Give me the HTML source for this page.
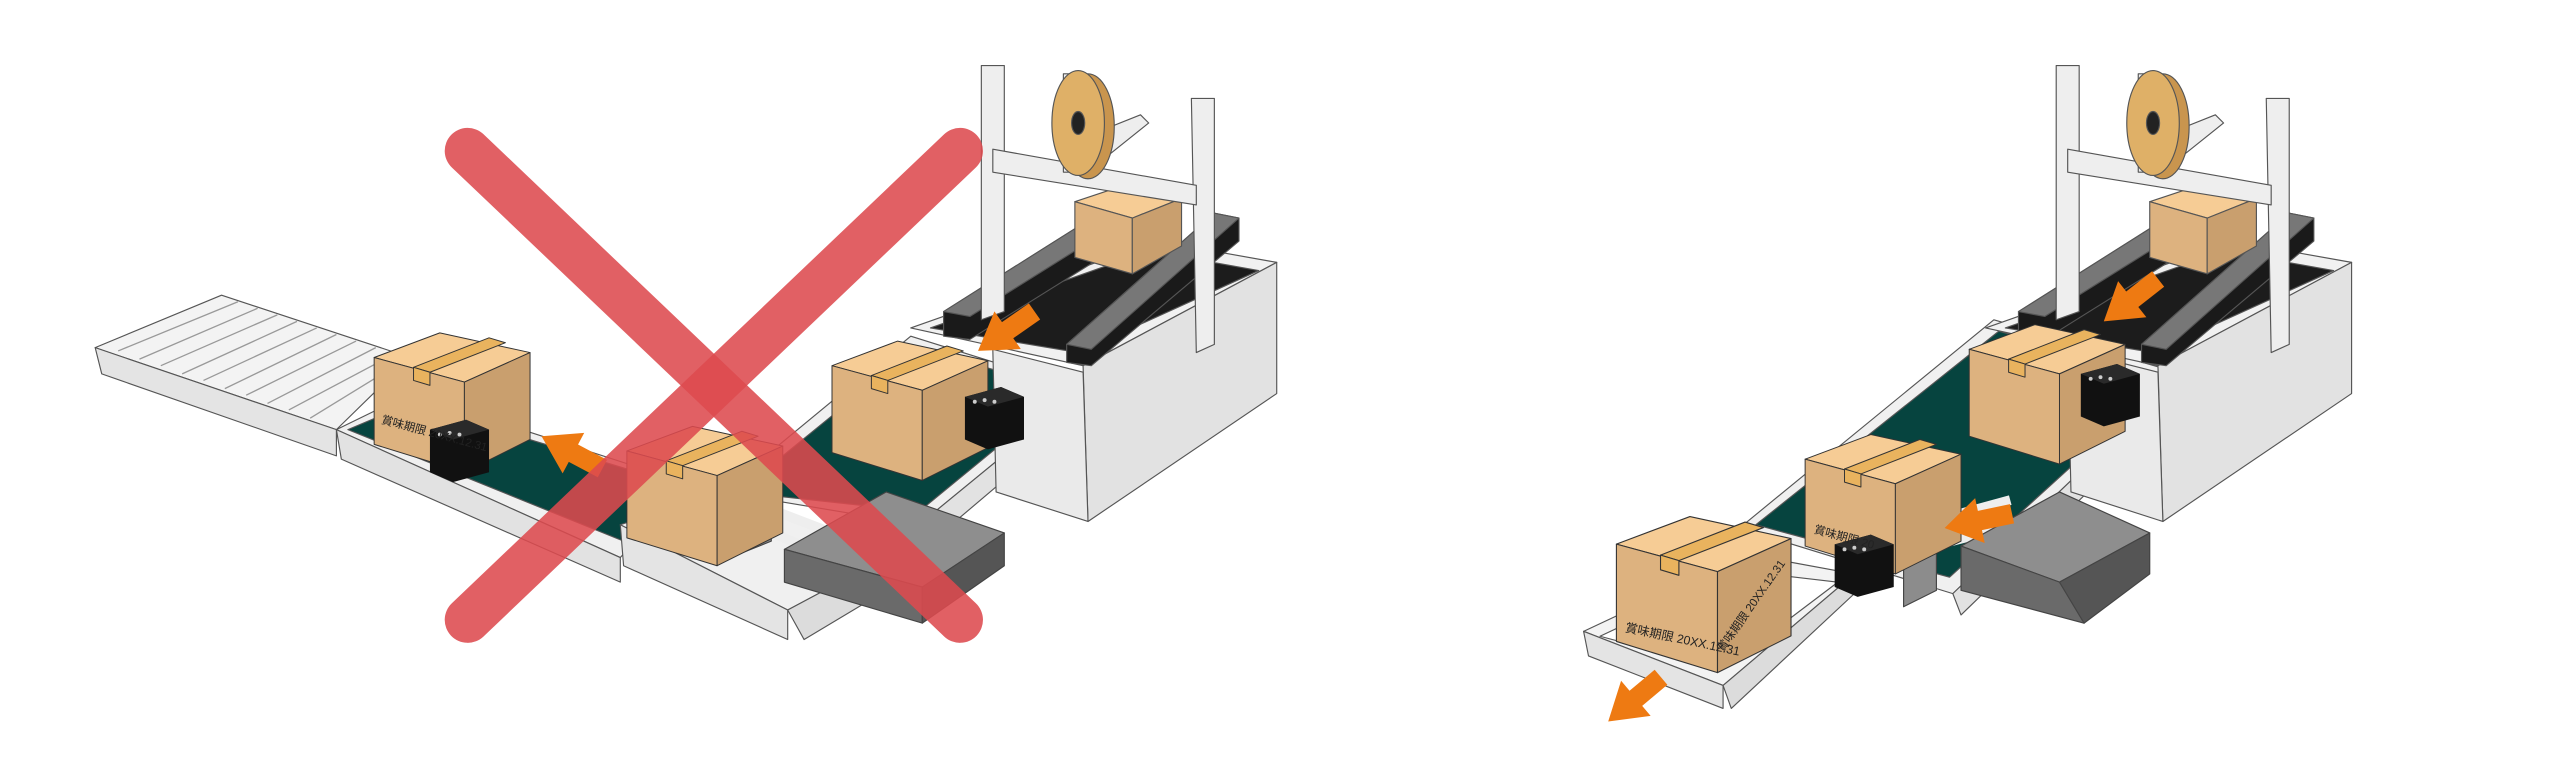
<!DOCTYPE html>
<html><head><meta charset="utf-8"><style>
html,body{margin:0;padding:0;background:#fff}
svg{display:block}
text{font-family:"Liberation Sans","Noto Sans CJK JP",sans-serif}
</style></head><body>
<svg width="2560" height="774" viewBox="0 0 1560 472" preserveAspectRatio="none" xmlns="http://www.w3.org/2000/svg">
<defs>
<g id="box" stroke="#333" stroke-width="0.6" stroke-linejoin="round">
<polygon points="0,15 40,0 95,12 55,30" fill="#f6cc95"/>
<polygon points="0,15 55,30 55,85 0,68" fill="#ddb27f"/>
<polygon points="55,30 95,12 95,65 55,85" fill="#c99f6e"/>
<polygon points="24,21 34,24 80,6 70,3" fill="#e9b35e"/>
<polygon points="24,21 34,24 34,32 24,29" fill="#e9b35e"/>
</g>
<g id="printer">
<polygon points="0,6 22,0 36,6 36,32 14,38 0,32" fill="#111"/>
<polygon points="0,6 22,0 36,6 14,12" fill="#2a2a2a"/>
<circle cx="6" cy="9" r="1.2" fill="#ccc"/><circle cx="12" cy="8" r="1.2" fill="#ccc"/><circle cx="18" cy="9" r="1.2" fill="#ccc"/>
</g>
<polygon id="arrow" points="0,0 22,-14 22,-6 42,-6 42,6 22,6 22,14" fill="#ee7a12"/>
<g id="sealer" stroke="#555" stroke-width="0.7" stroke-linejoin="round">
<!-- body -->
<polygon points="10,95 160,42 233,55 115,118" fill="#f1f1f1"/>
<polygon points="115,118 233,55 233,135 118,213" fill="#e2e2e2"/>
<polygon points="60,108 115,122 118,213 62,195" fill="#eaeaea"/>
<!-- dark belt -->
<polygon points="22,95 155,48 222,60 112,110" fill="#1c1c1c"/>
<!-- side belts -->
<polygon points="30,85 125,25 142,28 142,42 46,102 30,100" fill="#1a1a1a"/>
<polygon points="30,85 125,25 142,28 46,88" fill="#777"/>
<polygon points="105,105 195,25 210,28 210,42 120,118 105,116" fill="#1a1a1a"/>
<polygon points="105,105 195,25 210,28 120,108" fill="#777"/>
<!-- box on sealer -->
<polygon points="110,18 140,8 175,16 145,28" fill="#f6cc95"/>
<polygon points="110,18 145,28 145,62 110,52" fill="#ddb27f"/>
<polygon points="145,28 175,16 175,45 145,62" fill="#c99f6e"/>
<!-- uprights -->
<polygon points="53,-65 67,-65 67,85 53,90" fill="#eeeeee"/>
<polygon points="181,-45 195,-45 195,105 184,110" fill="#eeeeee"/>
<polygon points="60,-14 184,8 184,20 60,0" fill="#eeeeee"/>
<polygon points="103,-60 115,-60 115,0 103,0" fill="#eeeeee"/>
<polygon points="125,-25 150,-35 155,-30 130,-10" fill="#eeeeee"/>
<!-- tape roll -->
<ellipse cx="118" cy="-28" rx="16" ry="32" fill="#c9954e"/>
<ellipse cx="112" cy="-30" rx="16" ry="32" fill="#dfb067"/>
<ellipse cx="112" cy="-30" rx="4" ry="7" fill="#222"/>
</g>
</defs>

<!-- ================= LEFT SCENE ================= -->
<g stroke="#555" stroke-width="0.7" stroke-linejoin="round">
<polygon points="58,212 135,180 250,218 205,262" fill="#f3f3f3"/>
<polygon points="58,212 205,262 205,278 62,228" fill="#e4e4e4"/>
<g stroke="#999" stroke-width="0.8">
<line x1="72" y1="214" x2="145" y2="184"/><line x1="85" y1="219" x2="157" y2="188"/>
<line x1="98" y1="223" x2="169" y2="192"/><line x1="111" y1="228" x2="181" y2="196"/>
<line x1="124" y1="232" x2="193" y2="200"/><line x1="137" y1="237" x2="205" y2="204"/>
<line x1="150" y1="241" x2="217" y2="208"/><line x1="163" y1="246" x2="229" y2="212"/>
<line x1="176" y1="250" x2="240" y2="216"/><line x1="189" y1="255" x2="246" y2="220"/>
</g>
<polygon points="205,262 250,240 420,295 378,340" fill="#f0f0f0"/>
<polygon points="205,262 378,340 378,355 208,280" fill="#e2e2e2"/>
<polygon points="212,262 250,246 415,296 380,330" fill="#06443f"/>
<polygon points="440,300 555,205 660,238 560,320" fill="#f0f0f0"/>
<polygon points="450,300 558,212 650,238 560,312" fill="#06443f"/>
<polygon points="560,320 660,238 660,252 562,335" fill="#e2e2e2"/>
<polygon points="378,320 440,300 540,340 480,372" fill="#f0f0f0"/>
<polygon points="378,320 480,372 480,390 380,345" fill="#e4e4e4"/>
<polygon points="480,372 540,340 540,360 490,390" fill="#dcdcdc"/>
</g>
<use href="#sealer" x="545" y="105"/>
<g stroke="#444" stroke-width="0.7" stroke-linejoin="round">
<polygon points="445,290 470,280 470,330 445,340" fill="#8c8c8c"/>
<line x1="455" y1="305" x2="520" y2="330" stroke="#eee" stroke-width="6"/>
<line x1="455" y1="318" x2="505" y2="340" stroke="#eee" stroke-width="6"/>
<polygon points="478,335 540,300 612,325 562,358" fill="#8e8e8e"/>
<polygon points="478,335 562,358 562,380 478,355" fill="#6a6a6a"/>
<polygon points="562,358 612,325 612,345 562,380" fill="#555"/>
</g>
<use href="#box" x="228" y="203"/>
<use href="#box" x="507" y="208"/>
<use href="#box" x="382" y="260"/>
<use href="#printer" x="262" y="256"/>
<use href="#printer" x="588" y="236"/>
<use href="#arrow" transform="translate(330,266) rotate(28)"/>
<use href="#arrow" transform="translate(596,214) rotate(-35)"/>
<text x="232" y="258" font-size="7" fill="#222" transform="rotate(15 232 258)">賞味期限 20XX.12.31</text>
<g stroke="#dd4a4f" stroke-opacity="0.88" stroke-width="28" stroke-linecap="round">
<line x1="285" y1="92" x2="585" y2="378"/>
<line x1="585" y1="92" x2="285" y2="378"/>
</g>

<!-- ================= RIGHT SCENE ================= -->
<g stroke="#555" stroke-width="0.7" stroke-linejoin="round">
<polygon points="1060,322 1215,195 1330,228 1190,362" fill="#f0f0f0"/>
<polygon points="1070,320 1218,202 1322,230 1188,352" fill="#06443f"/>
<polygon points="1190,362 1330,228 1330,244 1195,375" fill="#e2e2e2"/>
<polygon points="965,385 1065,338 1130,350 1050,418" fill="#f3f3f3"/>
<polygon points="975,388 1060,348 1120,355 1050,408" fill="#ffffff"/>
<polygon points="965,385 1050,418 1050,432 968,400" fill="#e4e4e4"/>
<polygon points="1050,418 1130,350 1130,362 1055,432" fill="#dcdcdc"/>
</g>
<use href="#sealer" x="1200" y="105"/>
<g stroke="#444" stroke-width="0.7" stroke-linejoin="round">
<polygon points="1160,318 1180,308 1180,360 1160,370" fill="#8c8c8c"/>
<line x1="1170" y1="320" x2="1225" y2="305" stroke="#eee" stroke-width="6"/>
<line x1="1170" y1="335" x2="1220" y2="322" stroke="#eee" stroke-width="6"/>
<polygon points="1195,333 1255,300 1310,325 1255,355" fill="#8e8e8e"/>
<polygon points="1195,333 1255,355 1270,380 1195,360" fill="#6a6a6a"/>
<polygon points="1255,355 1310,325 1310,350 1270,380" fill="#555"/>
</g>
<use href="#box" x="1200" y="198"/>
<use href="#box" x="1100" y="265"/>
<use href="#box" transform="translate(985,315) scale(1.12)"/>
<use href="#printer" x="1268" y="222"/>
<use href="#printer" x="1118" y="326"/>
<text x="990" y="385" font-size="7.5" fill="#222" transform="rotate(12 990 385)">賞味期限 20XX.12.31</text>
<text x="1050" y="398" font-size="7" fill="#222" transform="rotate(-55 1050 398)">賞味期限 20XX.12.31</text>
<text x="1105" y="325" font-size="7" fill="#222" transform="rotate(15 1105 325)">賞味期限 20</text>
<use href="#arrow" transform="translate(1282,196) rotate(-38)"/>
<use href="#arrow" transform="translate(1185,322) rotate(-12)"/>
<use href="#arrow" transform="translate(980,440) rotate(-40)"/>
</svg>
</body></html>
